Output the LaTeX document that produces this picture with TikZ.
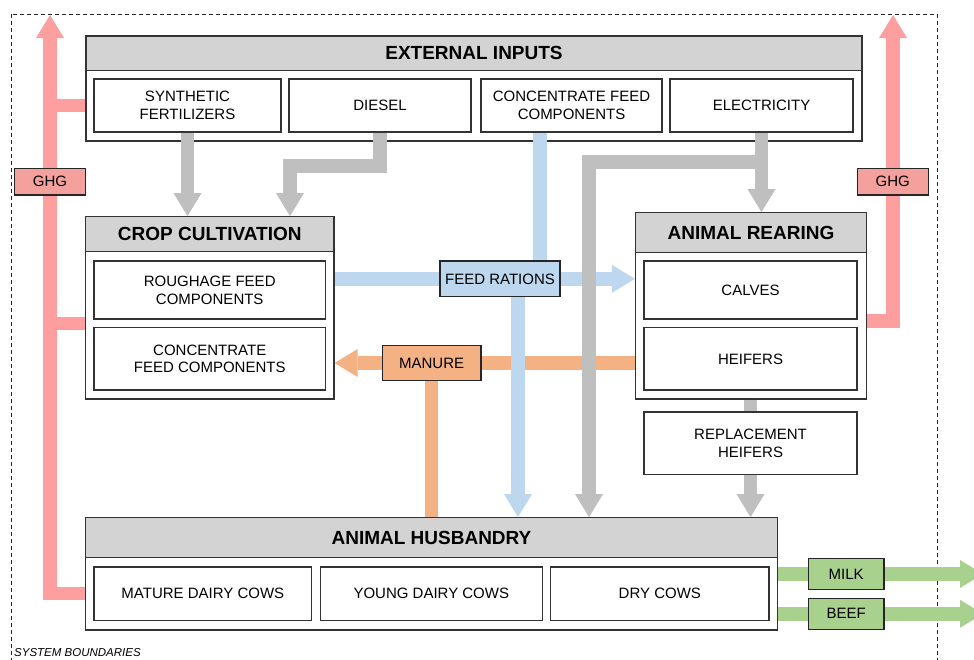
\documentclass[tikz,border=0pt]{standalone}
\usepackage{fontspec}
\setmainfont{Liberation Sans}
\usetikzlibrary{arrows.meta}

\definecolor{hdgray}{HTML}{D3D3D3}
\definecolor{arrgray}{HTML}{BFBFBF}
\definecolor{ghgred}{HTML}{FF9E9E}
\definecolor{ghgfill}{HTML}{F4A09C}
\definecolor{feedblue}{HTML}{BDD7EE}
\definecolor{manorange}{HTML}{F4B183}
\definecolor{outgreen}{HTML}{A9D18E}
\definecolor{boxline}{HTML}{333333}

\tikzset{
  outerbox/.style={draw=boxline, line width=1.2pt, fill=white, inner sep=0pt},
  headbox/.style={outerbox, fill=hdgray, font=\fontsize{19}{22}\selectfont\bfseries},
  itembox/.style={outerbox, align=center, font=\fontsize{15}{17.7}\selectfont},
  labelbox/.style={itembox, draw=black!85},
  flow/.style={line width=13.5pt},
  arrowed/.style={-{Triangle[width=28pt,length=23pt,line width=0pt]}},
}

\begin{document}
\begin{tikzpicture}[x=1pt,y=-1pt]
  \useasboundingbox (0,0) rectangle (974,659);

  % system boundaries
  \draw[black!85, line width=0.9pt, dash pattern=on 4pt off 3pt] (11,14) rectangle (937,680);
  \node[anchor=base west, inner sep=0pt, font=\fontsize{11.5}{13}\selectfont\itshape] (SB) at (14,656) {SYSTEM BOUNDARIES};

  % external inputs
  \node[outerbox, minimum width=776pt, minimum height=105pt] (EI) at (474,88.5) {};
  \node[headbox, minimum width=776pt, minimum height=34.3pt] (EIh) at (474,53.2) {EXTERNAL INPUTS};
  \node[itembox, minimum width=187pt, minimum height=53pt] (SF) at (187.5,105.5) {SYNTHETIC\\FERTILIZERS};
  \node[itembox, minimum width=182pt, minimum height=53pt] (DS) at (380,105.5) {DIESEL};
  \node[itembox, minimum width=181pt, minimum height=53pt] (CF) at (571.5,105.5) {CONCENTRATE FEED\\COMPONENTS};
  \node[itembox, minimum width=183pt, minimum height=53pt] (EL) at (761.5,105.5) {ELECTRICITY};

  % crop cultivation
  \node[outerbox, minimum width=248.5pt, minimum height=182.3pt] (CC) at (209.75,307.85) {};
  \node[headbox, minimum width=248.5pt, minimum height=35pt] (CCh) at (209.75,234.2) {CROP CULTIVATION};
  \node[itembox, minimum width=231.5pt, minimum height=58pt] (RF) at (209.75,290) {ROUGHAGE FEED\\COMPONENTS};
  \node[itembox, minimum width=231.5pt, minimum height=62.5pt] (CFC) at (209.75,358.75) {CONCENTRATE\\FEED COMPONENTS};

  % animal rearing
  \node[outerbox, minimum width=231pt, minimum height=186.3pt] (AR) at (751,305.85) {};
  \node[headbox, minimum width=231pt, minimum height=39.6pt] (ARh) at (751,232.5) {ANIMAL REARING};
  \node[itembox, minimum width=213pt, minimum height=58pt] (CA) at (750.5,290) {CALVES};
  \node[itembox, minimum width=213pt, minimum height=62.3pt] (HE) at (750.5,358.85) {HEIFERS};
  \node[itembox, minimum width=213pt, minimum height=62.3pt] (RH) at (750.5,443.15) {REPLACEMENT\\HEIFERS};

  % animal husbandry
  \node[outerbox, minimum width=691.6pt, minimum height=112.3pt] (AH) at (431.5,573.85) {};
  \node[headbox, minimum width=691.6pt, minimum height=39.6pt] (AHh) at (431.5,537.5) {ANIMAL HUSBANDRY};
  \node[itembox, minimum width=217.7pt, minimum height=53.3pt] (MD) at (202.85,593.65) {MATURE DAIRY COWS};
  \node[itembox, minimum width=222pt, minimum height=53.3pt] (YD) at (431.3,593.65) {YOUNG DAIRY COWS};
  \node[itembox, minimum width=218.3pt, minimum height=53.3pt] (DC) at (659.85,593.65) {DRY COWS};

  % where the labels sit
  \coordinate (g1) at (50,181.65);
  \coordinate (g2) at (892.8,181.65);
  \coordinate (fr) at (500,278.85);
  \coordinate (ma) at (431.65,363);
  \coordinate (mi) at (846.15,574);
  \coordinate (be) at (846.15,613.8);

  % ghg
  \coordinate (ghgL) at (50,15);
  \coordinate (ghgR) at (893,15);
  \coordinate (ccg) at (0,323.5);
  \coordinate (arg) at (0,321);
  \draw[flow, arrowed, ghgred] (AH.west |- MD) -| (ghgL);
  \draw[flow, ghgred] (EI.west |- SF) -- (ghgL |- SF);
  \draw[flow, ghgred] (CC.west |- ccg) -- (ghgL |- ccg);
  \draw[flow, arrowed, ghgred] (AR.east |- arg) -| (ghgR);

  % feed
  \coordinate (cfx) at (540,0);
  \coordinate (frx) at (518,0);
  \draw[flow, feedblue] (CF.south -| cfx) -- (cfx |- fr);
  \draw[flow, arrowed, feedblue] (CC.east |- fr) -- (AR.west |- fr);

  % manure
  \draw[flow, arrowed, manorange] (AR.west |- ma) -- (CC.east |- ma);
  \draw[flow, manorange] (ma) -- (ma |- AHh.north);

  \draw[flow, arrowed, feedblue] (frx |- fr) -- (frx |- AHh.north);

  % gray flows
  \coordinate (dsbend) at (290,166);
  \coordinate (elbend) at (589,162);
  \draw[flow, arrowed, arrgray] (SF.south) -- (SF.south |- CCh.north);
  \draw[flow, arrowed, arrgray] (DS.south) |- (dsbend) -- (dsbend |- CCh.north);
  \draw[flow, arrowed, arrgray] (EL.south) -- (EL.south |- ARh.north);
  \draw[flow, arrowed, arrgray] (EL.south |- elbend) -- (elbend) -- (elbend |- AHh.north);
  \draw[flow, arrgray] (AR.south -| RH.north) -- (RH.north);
  \draw[flow, arrowed, arrgray] (RH.south) -- (RH.south |- AHh.north);

  % outputs
  \coordinate (outR) at (983,0);
  \draw[flow, arrowed, outgreen] (AH.east |- mi) -- (outR |- mi);
  \draw[flow, arrowed, outgreen] (AH.east |- be) -- (outR |- be);

  % labels
  \node[labelbox, fill=ghgfill, minimum width=71.4pt, minimum height=26.7pt] (G1) at (g1) {GHG};
  \node[labelbox, fill=ghgfill, minimum width=71pt, minimum height=26.7pt] (G2) at (g2) {GHG};
  \node[labelbox, fill=feedblue, minimum width=120pt, minimum height=35.7pt] (FR) at (fr) {FEED RATIONS};
  \node[labelbox, fill=manorange, minimum width=98.7pt, minimum height=35.4pt] (MA) at (ma) {MANURE};
  \node[labelbox, fill=outgreen, minimum width=75.7pt, minimum height=31.4pt] (MI) at (mi) {MILK};
  \node[labelbox, fill=outgreen, minimum width=75.7pt, minimum height=31pt] (BE) at (be) {BEEF};
\end{tikzpicture}
\end{document}
